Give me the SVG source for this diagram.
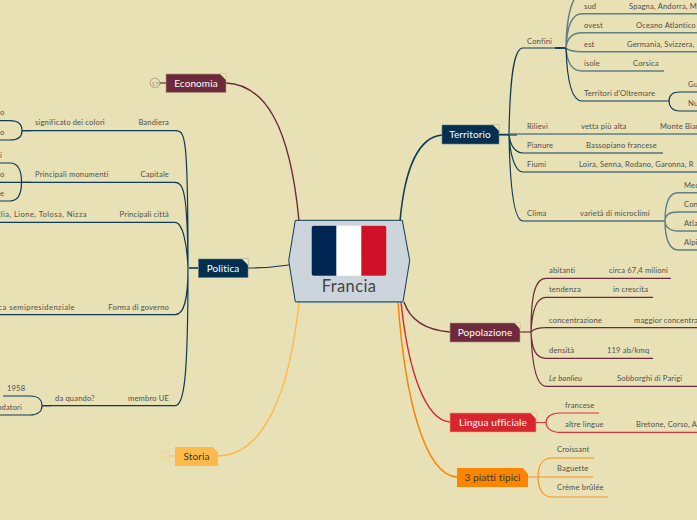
<svg xmlns="http://www.w3.org/2000/svg" width="697" height="520" viewBox="0 0 697 520">
<style>
text{font-family:"Lato","Noto Sans",sans-serif;font-size:7.6px;fill:#50504a;letter-spacing:.15px}
.e{text-anchor:end}
.w{letter-spacing:.42px}
.n{font-size:10px;text-anchor:middle;fill:#fff;letter-spacing:.1px}
.d{fill:#3a3a30}
path{fill:none}
.b{stroke:#0d3a56;stroke-width:1.2}
.bl{stroke:#5f7f84;stroke-width:1.4}
.m{stroke:#6d2a3a;stroke-width:1.2}
.r{stroke:#d8343a;stroke-width:1.2}
.o{stroke:#f88f1c;stroke-width:1.2}
.fold{fill:#e8e1b6;stroke:none}
</style>
<rect width="697" height="520" fill="#e8e1b6"/>
<g id="connectors">
<path d="M226 83C265 85 290 125 299 221" stroke="#6d2a3a" stroke-width="1.4"/>
<path d="M248 268C265 268 275 267 289 265" class="b" stroke-width="1.4"/>
<path d="M218 456C265 455 290 390 299 302" stroke="#fdb94a" stroke-width="1.4"/>
<path d="M442 135C420 137 405 165 400 221" class="b" style="stroke-width:1.5"/>
<path d="M450 332C425 330 410 320 404 302" class="m" style="stroke-width:1.4"/>
<path d="M450 422C425 420 408 370 401 302" stroke="#d8262e" stroke-width="1.4"/>
<path d="M457 477C425 475 405 400 398 302" stroke="#fb8500" stroke-width="1.5"/>
<path d="M198 268H189" class="b" style="stroke-width:1.6"/>
<path d="M0 222.300H175C183 222.300 187 245 188 268M188 268C188 130 185 131 175 130.700H22M188 268C187.500 195 184 182.300 175 182.300H22M188 268C188 300 184 314.700 175 314.700H0M188 268C188 380 184 405.700 175 405.700H42" class="b"/>
<path d="M22 130.700C22 124 18 120.700 10 120.700H0M22 130.700C22 137 18 140 10 140H0M31 130.700H22M31 182.300H0M21.500 182.300C21.500 170 18 163 10 163H0M21.500 182.300C21.500 194 18 201 10 201H0M51 405.700H42M42 405.700C42 400 38 396 30 396H3M42 405.700C42 411 38 415 30 415H0" class="b"/>
<path d="M499 134.700H517" class="b" style="stroke-width:1.8"/>
<path d="M509 134C510 75 514 48 523 48H566M509 134C510 145 515 153 523 153H663M509 134C510 155 515 172 523 172H697M509 134C510 190 514 221 523 221H665" class="b"/>
<path d="M509 134H697" class="bl"/>
<path d="M555 48H566" class="b" style="stroke-width:1.8"/>
<path d="M566 48C566 25 570 6 574 0M566 48C567 25 572 13.700 582 13.700H697M566 48C567 38 572 32.700 582 32.700H697M566 48C568 50 572 51.700 582 51.700H697M566 48C567 62 572 71 582 71H664" class="bl"/>
<path d="M566 48C567 80 572 101 582 101H669M669 101C669 96 672 92 680 92H697M669 101C669 106 672 111 680 111H697" class="b"/>
<path d="M665 221C665 200 670 192.700 678 192.700H697M665 221C665 215 670 212 678 212H697M665 221C665 227 670 231 678 231H697M665 221C665 240 670 250 678 250H697" class="bl"/>
<path d="M520 332H531" class="m"/>
<path d="M531 332C531 295 535 278.300 546 278.300H671M531 332C532 310 536 297.300 546 297.300H653M531 332C534 329 538 327.700 546 327.700H697M531 332C532 350 536 358.300 546 358.300H653M531 332C532 365 536 386.300 546 386.300H697" class="m"/>
<path d="M536 422.500H546M546 422.500C546 418 550 413 560 413H599M546 422.500C546 427 550 432.300 560 432.300H697" class="r"/>
<path d="M528 477H538M538 477C538 465 543 458 552 458H594M538 477H593M538 477C538 489 543 497 552 497H608" class="o"/>
</g>
<g id="center">
<path d="M295.300 220.300H402.300L409.700 260.500L403 301.700H295.300L288.700 260.500Z" style="fill:#cdd5dc;stroke:#0f3a55;stroke-width:1"/>
<path d="M295.300 302H403" stroke="#5f7f8a" stroke-width="1.5"/>
<rect x="311.700" y="225.700" width="74.600" height="50" rx="2" fill="#fff"/>
<path d="M336.300 225.700H313.700A2 2 0 0 0 311.700 227.700V273.700A2 2 0 0 0 313.700 275.700H336.300Z" style="fill:#002654"/>
<path d="M361.300 225.700H384.300A2 2 0 0 1 386.300 227.700V273.700A2 2 0 0 1 384.300 275.700H361.300Z" style="fill:#ce1126"/>
<text x="349" y="292" style="font-size:16.500px;text-anchor:middle;letter-spacing:.4px;fill:#444">Francia</text>
</g>
<g id="economia">
<circle cx="155" cy="83" r="4.800" style="fill:none;stroke:#a58a7a;stroke-width:.8"/>
<path d="M160 83H166" class="m"/>
<text x="155" y="85.500" style="font-size:6px;text-anchor:middle;fill:#a58a7a;letter-spacing:0">17</text>
<rect x="166" y="74" width="60" height="18.500" fill="#6d2a3a" stroke="#b09a80" stroke-width=".6"/>
<path d="M220 74L226 80V74Z" class="fold"/>
<text x="196" y="86.500" class="n">Economia</text>
</g>
<g id="politica">
<rect x="198.500" y="259" width="49.500" height="18.500" fill="#033050" stroke="#5f7f84" stroke-width=".6"/>
<path d="M242 259L248 265V259Z" class="fold"/>
<text x="223" y="271.500" class="n">Politica</text>
<text x="0" y="115">o</text><text x="0" y="135">o</text>
<text x="35" y="125">significato dei colori</text><text x="169" y="125" class="e">Bandiera</text>
<text x="0" y="158">i</text><text x="0" y="177">o</text><text x="0" y="196">e</text>
<text x="35" y="177">Principali monumenti</text><text x="169" y="177" class="e">Capitale</text>
<text x="87" y="217" class="e w">iglia, Lione, Tolosa, Nizza</text><text x="169" y="217" class="e">Principali città</text>
<text x="75" y="310" class="e w">ica semipresidenziale</text><text x="169" y="310" class="e">Forma di governo</text>
<text x="55" y="400.500">da quando?</text><text x="169" y="400.500" class="e">membro UE</text>
<text x="7" y="391">1958</text><text x="22" y="410" class="e">ndatori</text>
</g>
<g id="storia">
<circle cx="165" cy="456" r="4.800" style="fill:none;stroke:#f5cf7f;stroke-width:.8"/>
<path d="M170 456H175" stroke="#fdb94a"/>
<text x="165" y="458.500" style="font-size:6px;text-anchor:middle;fill:#f5cf7f;letter-spacing:0">4</text>
<rect x="175" y="447" width="43" height="19" fill="#fdb94a"/>
<path d="M212.500 447L218 452.500V447Z" class="fold"/>
<text x="196.500" y="459.500" class="n d">Storia</text>
</g>
<g id="territorio">
<rect x="442" y="125" width="57" height="19" fill="#033050" stroke="#5f7f84" stroke-width=".6"/>
<path d="M493 125L499 131V125Z" class="fold"/>
<text x="470" y="138" class="n">Territorio</text>
<text x="527" y="43.500">Confini</text>
<text x="584" y="9">sud</text><text x="629" y="9">Spagna, Andorra, M</text>
<text x="584" y="28">ovest</text><text x="636" y="28">Oceano Atlantico</text>
<text x="584" y="47">est</text><text x="627" y="47">Germania, Svizzera,</text>
<text x="584" y="66">isole</text><text x="633" y="66">Corsica</text>
<text x="584" y="96">Territori d'Oltremare</text><text x="688" y="87">Gu</text><text x="688" y="106">Nu</text>
<text x="527" y="129">Rilievi</text><text x="581" y="129">vetta più alta</text><text x="660" y="129">Monte Bian</text>
<text x="527" y="148">Pianure</text><text x="586" y="148">Bassopiano francese</text>
<text x="527" y="167">Fiumi</text><text x="579" y="167">Loira, Senna, Rodano, Garonna, R</text>
<text x="527" y="216">Clima</text><text x="580" y="216">varietà di microclimi</text>
<text x="684" y="188">Med</text><text x="684" y="207">Con</text><text x="684" y="226">Atla</text><text x="684" y="245">Alpi</text>
</g>
<g id="popolazione">
<rect x="450" y="323" width="70" height="19" fill="#6d2a3a" stroke="#b09a80" stroke-width=".6"/>
<path d="M514.500 323L520 329V323Z" class="fold"/>
<text x="485" y="336" class="n">Popolazione</text>
<text x="549" y="273">abitanti</text><text x="609" y="273">circa 67,4 milioni</text>
<text x="549" y="292">tendenza</text><text x="613" y="292">in crescita</text>
<text x="549" y="322.500">concentrazione</text><text x="634" y="322.500">maggior concentra</text>
<text x="549" y="353">densità</text><text x="607" y="353">119 ab/kmq</text>
<text x="549" y="381" font-style="italic">Le banlieu</text><text x="617" y="381">Sobborghi di Parigi</text>
</g>
<g id="lingua">
<rect x="450" y="413" width="86" height="19" fill="#d8262e" stroke="#eda070" stroke-width=".6"/>
<path d="M530.500 413L536 419V413Z" class="fold"/>
<text x="493" y="426" class="n">Lingua ufficiale</text>
<text x="565" y="408">francese</text><text x="565" y="427">altre lingue</text><text x="636" y="427">Bretone, Corso, A</text>
</g>
<g id="piatti">
<rect x="457" y="468" width="71" height="19" fill="#fb8500"/>
<path d="M522.500 468L528 474V468Z" class="fold"/>
<text x="492.500" y="481" class="n d">3 piatti tipici</text>
<text x="557" y="452">Croissant</text><text x="557" y="471">Baguette</text><text x="557" y="490">Crème brûlée</text>
</g>
</svg>
